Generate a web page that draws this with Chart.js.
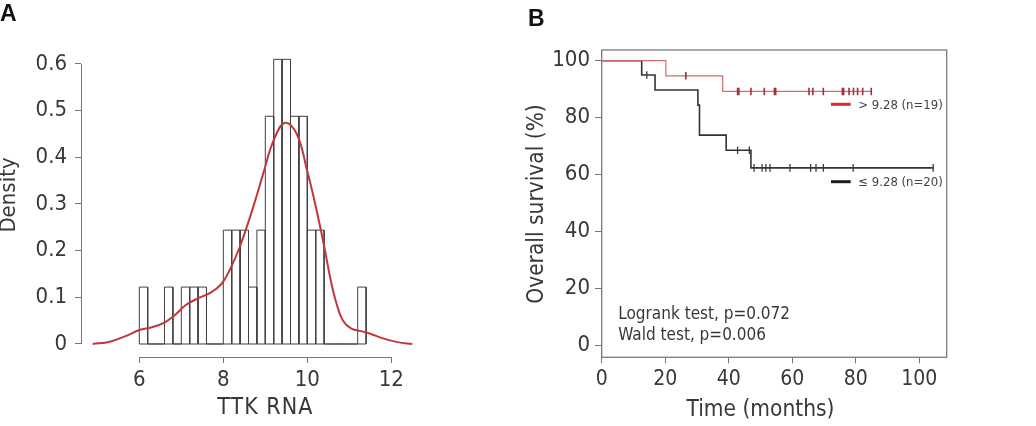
<!DOCTYPE html>
<html><head><meta charset="utf-8">
<script src="https://cdn.jsdelivr.net/npm/chart.js@4.4.1/dist/chart.umd.min.js"></script>
<style>
html,body{margin:0;padding:0;background:#fff;width:1036px;height:426px;overflow:hidden;}
#wa{position:absolute;left:0;top:0;width:500px;height:426px;}
#wb{position:absolute;left:500px;top:0;width:536px;height:426px;}
canvas{display:block;}
</style></head><body>
<div id="wa"><canvas id="ca" width="500" height="426"></canvas></div>
<div id="wb"><canvas id="cb" width="536" height="426"></canvas></div>
<script>
// ---------- Panel A data ----------
const histBinStart = [6.0,6.2,6.4,6.6,6.8,7.0,7.2,7.4,7.6,7.8,8.0,8.2,8.4,8.6,8.8,9.0,9.2,9.4,9.6,9.8,10.0,10.2,10.4,10.6,10.8,11.0,11.2];
const histDensity  = [0.122,0,0,0.122,0,0.122,0.122,0.122,0,0,0.244,0.244,0.244,0.122,0.244,0.488,0.610,0.610,0.488,0.488,0.244,0.244,0,0,0,0,0.122];
const histBinWidth = 0.2;
const kdeX = [4.89,5.3,5.7,6.0,6.3,6.6,6.85,7.1,7.4,7.7,7.95,8.15,8.4,8.7,8.95,9.2,9.47,9.75,10.0,10.2,10.4,10.55,10.7,10.85,11.05,11.3,11.5,11.8,12.15,12.5];
const kdeY = [0,0.005,0.018,0.03,0.036,0.046,0.062,0.083,0.098,0.11,0.128,0.158,0.21,0.29,0.365,0.437,0.474,0.45,0.37,0.295,0.21,0.14,0.085,0.05,0.033,0.027,0.022,0.012,0.004,0];
const xTicksA = [6,8,10,12];
const yTicksA = [0,0.1,0.2,0.3,0.4,0.5,0.6];

// ---------- Panel B data ----------
const kmHighTime = [0,20.2,38.1,84.9];
const kmHighSurv = [100,94.7,89.2,89.2];
const kmLowTime  = [0,12.6,16.8,30.3,30.8,39.2,47.0,104.4];
const kmLowSurv  = [100,95.0,89.7,84.4,73.9,68.6,62.4,62.4];
const censorHigh = [26.5,42.8,43.2,47.0,51.2,54.4,54.8,65.3,66.5,69.8,75.8,76.2,77.9,79.3,80.6,82.2,84.9];
const censorLow  = [14.2,42.8,46.5,48.0,50.5,51.7,53.0,59.3,65.8,67.5,69.8,79.2,104.4];
const xTicksB = [0,20,40,60,80,100];
const yTicksB = [0,20,40,60,80,100];
const legendLabels = ['> 9.28 (n=19)','\u2264 9.28 (n=20)'];
const statLines = ['Logrank test, p=0.072','Wald test, p=0.006'];

const FAM = '"DejaVu Sans Condensed","DejaVu Sans",sans-serif';
const TXT = '#383838';

// ---------- Panel A ----------
const histOutline = [];
histBinStart.forEach((l,i)=>{
  const h = histDensity[i], r = l + histBinWidth;
  histOutline.push({x:l,y:0},{x:l,y:h},{x:r,y:h},{x:r,y:0},{x:l,y:0},{x:r,y:null});
});
const kdePts = kdeX.map((x,i)=>({x:x,y:kdeY[i]}));

function alignPx(p){ return Math.round(p-0.5)+0.5; }

const axesA = {
  id:'axesA',
  afterDraw(chart){
    const ctx=chart.ctx, xs=chart.scales.x, ys=chart.scales.y, ca=chart.chartArea;
    ctx.save();
    ctx.strokeStyle='#777'; ctx.lineWidth=1;
    const xl = alignPx(ca.left);
    ctx.beginPath();
    ctx.moveTo(xl, ys.getPixelForValue(yTicksA[0]));
    ctx.lineTo(xl, ys.getPixelForValue(yTicksA[yTicksA.length-1]));
    const yb = alignPx(ca.bottom);
    ctx.moveTo(xs.getPixelForValue(xTicksA[0]), yb);
    ctx.lineTo(xs.getPixelForValue(xTicksA[xTicksA.length-1]), yb);
    ctx.stroke();
    ctx.fillStyle=TXT;
    ctx.textAlign='center'; ctx.textBaseline='middle';
    ctx.font='23px '+FAM;
    try{ ctx.letterSpacing='1px'; }catch(e){}
    ctx.fillText('TTK RNA', xs.getPixelForValue(9), 408);
    try{ ctx.letterSpacing='0px'; }catch(e){}
    ctx.save();
    ctx.translate(9,195); ctx.rotate(-Math.PI/2);
    ctx.font='22px '+FAM;
    ctx.fillText('Density',0,0);
    ctx.restore();
    ctx.font='bold 23px "Liberation Sans",Arial,sans-serif';
    ctx.fillStyle='#111'; ctx.textAlign='left';
    ctx.fillText('A',0,15);
    ctx.restore();
  }
};

new Chart(document.getElementById('ca'),{
  type:'line',
  data:{datasets:[
    {label:'density',data:kdePts,borderColor:'#c0383a',borderWidth:2,pointRadius:0,tension:0.4,fill:false},
    {label:'hist',data:histOutline,borderColor:'#404040',borderWidth:1,pointRadius:0,tension:0,spanGaps:false,fill:false}
  ]},
  options:{
    responsive:false,animation:false,devicePixelRatio:1,
    layout:{padding:{top:50,right:84,left:0,bottom:0}},
    plugins:{legend:{display:false},tooltip:{enabled:false}},
    scales:{
      x:{type:'linear',min:4.612,max:12.588,
        afterBuildTicks:s=>{s.ticks=xTicksA.map(v=>({value:v}));},
        afterFit:s=>{s.height=69;},
        grid:{display:true,drawOnChartArea:false,drawTicks:true,tickLength:6,tickColor:'#777',lineWidth:1},
        border:{display:false},
        ticks:{font:{family:FAM,size:22},color:TXT,padding:4,maxRotation:0,autoSkip:false,callback:v=>String(v)}},
      y:{type:'linear',min:-0.02786,max:0.63,
        afterBuildTicks:s=>{s.ticks=yTicksA.map(v=>({value:v}));},
        afterFit:s=>{s.width=81;},
        grid:{display:true,drawOnChartArea:false,drawTicks:true,tickLength:6,tickColor:'#777',lineWidth:1},
        border:{display:false},
        ticks:{font:{family:FAM,size:22},color:TXT,padding:8,autoSkip:false,callback:v=>v===0?'0':v.toFixed(1)}}
    }
  },
  plugins:[axesA]
});

// ---------- Panel B ----------
function survAt(times,surv,t){
  let s=surv[0];
  for(let i=0;i<times.length;i++){ if(times[i]<=t) s=surv[i]; }
  return s;
}
const kmHighPts = kmHighTime.map((t,i)=>({x:t,y:kmHighSurv[i]}));
const kmLowPts  = kmLowTime.map((t,i)=>({x:t,y:kmLowSurv[i]}));
const cenHighPts = censorHigh.map(t=>({x:t,y:survAt(kmHighTime,kmHighSurv,t)}));
const cenLowPts  = censorLow.map(t=>({x:t,y:survAt(kmLowTime,kmLowSurv,t)}));

const decoB = {
  id:'decoB',
  afterDraw(chart){
    const ctx=chart.ctx, xs=chart.scales.x, ca=chart.chartArea;
    ctx.save();
    ctx.strokeStyle='#7a7a7a'; ctx.lineWidth=1.3;
    ctx.strokeRect(ca.left,ca.top,ca.right-ca.left,ca.bottom-ca.top);
    // legend
    ctx.lineWidth=3;
    ctx.strokeStyle='#e02828';
    ctx.beginPath(); ctx.moveTo(331,104.3); ctx.lineTo(350.7,104.3); ctx.stroke();
    ctx.strokeStyle='#1e1e1e';
    ctx.beginPath(); ctx.moveTo(331,181.7); ctx.lineTo(350.7,181.7); ctx.stroke();
    ctx.fillStyle='#444'; ctx.textAlign='left'; ctx.textBaseline='middle';
    ctx.font='13px '+FAM;
    ctx.fillText(legendLabels[0],358.3,105.5);
    ctx.fillText(legendLabels[1],358.3,182.5);
    // stats
    ctx.fillStyle=TXT;
    ctx.font='17px '+FAM;
    ctx.fillText(statLines[0],118.3,314.3);
    ctx.fillText(statLines[1],118.3,335.7);
    // titles
    ctx.textAlign='center';
    ctx.font='22.5px '+FAM;
    ctx.fillText('Time (months)', xs.getPixelForValue(50), 410.5);
    ctx.save();
    ctx.translate(37,204); ctx.rotate(-Math.PI/2);
    ctx.fillText('Overall survival (%)',0,0);
    ctx.restore();
    ctx.font='bold 23px "Liberation Sans",Arial,sans-serif';
    ctx.fillStyle='#111'; ctx.textAlign='left';
    ctx.fillText('B',28,19.5);
    ctx.restore();
  }
};

new Chart(document.getElementById('cb'),{
  type:'line',
  data:{datasets:[
    {label:'cenHigh',data:cenHighPts,showLine:false,pointStyle:'line',pointRotation:90,pointRadius:3.8,pointHoverRadius:3.8,borderColor:'#a3303c',pointBorderColor:'#a3303c',pointBorderWidth:1.6},
    {label:'kmHigh',data:kmHighPts,stepped:true,borderColor:'#d46b6b',borderWidth:1.2,pointRadius:0,fill:false},
    {label:'cenLow',data:cenLowPts,showLine:false,pointStyle:'line',pointRotation:90,pointRadius:3.8,pointHoverRadius:3.8,borderColor:'#3a3a3a',pointBorderColor:'#3a3a3a',pointBorderWidth:1.3},
    {label:'kmLow',data:kmLowPts,stepped:true,borderColor:'#333',borderWidth:1.6,pointRadius:0,fill:false}
  ]},
  options:{
    responsive:false,animation:false,devicePixelRatio:1,
    layout:{padding:{top:50,right:89.3,left:0,bottom:0}},
    plugins:{legend:{display:false},tooltip:{enabled:false}},
    scales:{
      x:{type:'linear',min:0,max:108.66,
        afterBuildTicks:s=>{s.ticks=xTicksB.map(v=>({value:v}));},
        afterFit:s=>{s.height=68.7;},
        grid:{display:true,drawOnChartArea:false,drawTicks:true,tickLength:6,tickColor:'#777',lineWidth:1},
        border:{display:false},
        ticks:{font:{family:FAM,size:21},color:TXT,padding:4,maxRotation:0,autoSkip:false,callback:v=>String(v)}},
      y:{type:'linear',min:-4.07,max:103.75,
        afterBuildTicks:s=>{s.ticks=yTicksB.map(v=>({value:v}));},
        afterFit:s=>{s.width=101.7;},
        grid:{display:true,drawOnChartArea:false,drawTicks:true,tickLength:6.7,tickColor:'#777',lineWidth:1},
        border:{display:false},
        ticks:{font:{family:FAM,size:22},color:TXT,padding:5,autoSkip:false,callback:v=>String(v)}}
    }
  },
  plugins:[decoB]
});
</script>
</body></html>
